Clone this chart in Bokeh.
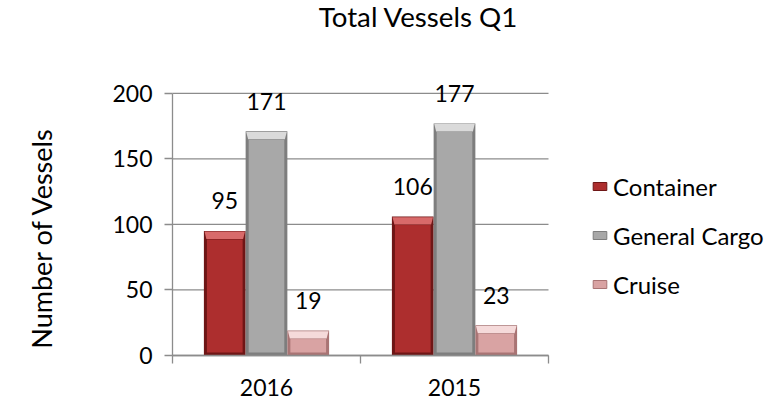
from bokeh.plotting import figure
from bokeh.models import Range1d, FixedTicker, Legend, LegendItem, Label, ColumnDataSource
from bokeh.core.properties import value
from bokeh.embed import file_html
from bokeh.resources import INLINE

# ---- data ----
years = ["2016", "2015"]
series = ["Container", "General Cargo", "Cruise"]
container = [95, 106]
general_cargo = [171, 177]
cruise = [19, 23]
y_ticks = [0, 50, 100, 150, 200]
title_text = "Total Vessels Q1"
y_label_text = "Number of Vessels"

# ---- layout / styles ----
FONT = "Lato"
W, H = 769, 401
PX_L, PX_R = 172, 548          # pixel x of category axis start / end
PX_Y0, PX_YTOP = 355, 92.8     # pixel y of value 0 / top tick
ppx = (PX_R - PX_L) / len(years)               # px per x unit
ppy = (PX_Y0 - PX_YTOP) / y_ticks[-1]          # px per y unit
x_start, x_end = -PX_L / ppx, (W - PX_L) / ppx
y_start, y_end = -(H - PX_Y0) / ppy, PX_Y0 / ppy

GRID = "#8C8C8C"
styles = [
    # edge, main, top bevel
    ("#6E1616", "#AD2E2E", "#D86A6A"),
    ("#7E7E7E", "#A8A8A8", "#DADADA"),
    ("#A97474", "#D9A3A3", "#F5DADA"),
]
BAR_W = 0.222
OFFS = [-0.222, 0.0, 0.222]

p = figure(width=W, height=H, output_backend="svg", toolbar_location=None,
           x_range=Range1d(x_start, x_end), y_range=Range1d(y_start, y_end),
           min_border=0)
p.outline_line_color = None
p.background_fill_color = "white"
p.border_fill_color = "white"

# gridlines limited to the category span
p.segment(x0=[0] * len(y_ticks), x1=[len(years)] * len(y_ticks), y0=y_ticks, y1=y_ticks,
          line_color=GRID, line_width=1.3)

xpx = 1 / ppx
ypx = 1 / ppy
EDGE = 2.5
BEVEL = 8.0

values = [container, general_cargo, cruise]
legend_items = []
for name, vals, off, (edge, main, top) in zip(series, values, OFFS, styles):
    xs = [i + 0.5 + off for i in range(len(years))]
    src = ColumnDataSource(dict(x=xs, top=vals, lab=[str(v) for v in vals]))
    p.vbar(x="x", top="top", bottom=0, width=BAR_W, source=src,
           fill_color=edge, line_color=None)
    inner = ColumnDataSource(dict(x=xs, top=[v - BEVEL * ypx for v in vals]))
    body = p.vbar(x="x", top="top", bottom=EDGE * ypx, width=BAR_W - 2 * EDGE * xpx,
                  source=inner, fill_color=main, line_color=edge, line_width=1)
    bx, by = [], []
    for x, v in zip(xs, vals):
        l, r = x - BAR_W / 2, x + BAR_W / 2
        bx.append([l + 0.6 * xpx, r - 0.6 * xpx, r - EDGE * xpx, l + EDGE * xpx])
        by.append([v - 0.6 * ypx, v - 0.6 * ypx, v - BEVEL * ypx, v - BEVEL * ypx])
    p.patches(bx, by, fill_color=top, line_color=None)
    p.text(x="x", y="top", text="lab", source=src, text_align="center",
           text_baseline="alphabetic", y_offset=-30, text_font=value(FONT),
           text_font_size="23px", text_color="black")
    legend_items.append(LegendItem(label=name, renderers=[body]))

# axes, fixed at the data origin
xa = p.xaxis[0]
xa.fixed_location = 0
xa.bounds = (0, len(years))
xa.ticker = FixedTicker(ticks=[i + 0.5 for i in range(len(years))],
                        minor_ticks=list(range(len(years) + 1)))
xa.major_label_overrides = {i + 0.5: yr for i, yr in enumerate(years)}
xa.major_tick_out = 0
xa.major_tick_in = 0
xa.minor_tick_out = 8
xa.minor_tick_in = 0
xa.minor_tick_line_color = GRID
xa.minor_tick_line_width = 1.3
xa.axis_line_color = GRID
xa.axis_line_width = 1.3
xa.major_label_standoff = 15
xa.major_label_text_font = FONT
xa.major_label_text_font_size = "23px"
xa.major_label_text_color = "black"

ya = p.yaxis[0]
ya.fixed_location = 0
ya.ticker = FixedTicker(ticks=y_ticks)
ya.bounds = (y_ticks[0], y_ticks[-1])
ya.major_tick_out = 8
ya.major_tick_in = 0
ya.minor_tick_line_color = None
ya.major_tick_line_color = GRID
ya.major_tick_line_width = 1.3
ya.axis_line_color = GRID
ya.axis_line_width = 1.3
ya.major_label_standoff = 12
ya.major_label_text_font = FONT
ya.major_label_text_font_size = "23px"
ya.major_label_text_color = "black"

p.xgrid.visible = False
p.ygrid.visible = False

# title and y label
p.add_layout(Label(x=418, y=H - 16, x_units="screen", y_units="screen", text=title_text,
                   text_align="center", text_baseline="middle",
                   text_font=FONT, text_font_size="27.7px", text_color="black"))
p.add_layout(Label(x=41, y=H - 237.5, x_units="screen", y_units="screen", text=y_label_text,
                   angle=1.5707963, text_align="center", text_baseline="middle",
                   text_font=FONT, text_font_size="27px", text_color="black"))

legend = Legend(items=legend_items, location=(591, H - 298.5), glyph_width=17, glyph_height=10,
                label_height=24, spacing=20, padding=0, margin=0, label_standoff=5,
                label_text_font=FONT, label_text_font_size="24px", label_text_color="black",
                border_line_color=None, background_fill_alpha=0)
p.add_layout(legend)

open("out.html", "w").write(file_html(p, INLINE))
